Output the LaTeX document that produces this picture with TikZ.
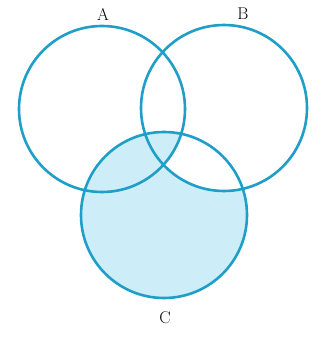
\documentclass[tikz,border=0pt]{standalone}
\usepackage{tikz}
\definecolor{ring}{HTML}{1F9FC8}
\definecolor{vennfill}{HTML}{CDEEF8}
\begin{document}
\begin{tikzpicture}[
          x=1pt,y=-1pt,
          every node/.style={font=\fontsize{17}{19}\selectfont},
          ring/.style={draw=ring,line width=2.6pt,circle,
                       minimum size=166pt,inner sep=0pt},
      ]
        \useasboundingbox (0,0) rectangle (323,350);
        % shaded part: C without the part of B outside A
        \fill[vennfill] (242.77,188.85)
          arc[start angle=-18.37,end angle=281.97,radius=83]
          arc[start angle=17.39,end angle=42.23,radius=83]
          arc[start angle=136.84,end angle=76.93,radius=83] -- cycle;
        \node[ring] (setA) at (102,109) {};
        \node[ring] (setB) at (224,108) {};
        \node[ring] (setC) at (164,215) {};
        \node (labA) at (103,14) {A};
        \node (labB) at (243,14) {B};
        \node (labC) at (165,318) {C};
      \end{tikzpicture}
\end{document}
